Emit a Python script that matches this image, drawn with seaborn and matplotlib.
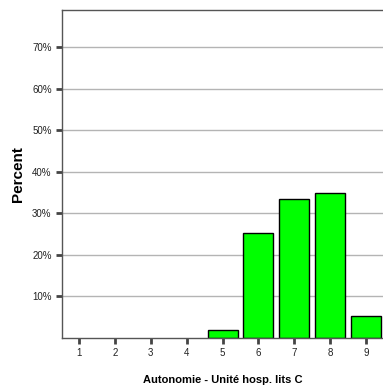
import matplotlib
matplotlib.use("Agg")
import matplotlib.pyplot as plt
import seaborn as sns
import pandas as pd
from matplotlib.ticker import FuncFormatter

# values
scores = [1, 2, 3, 4, 5, 6, 7, 8, 9]
percent = [0.0, 0.0, 0.0, 0.0, 2.0, 25.2, 33.5, 35.0, 5.2]
y_ticks = [10, 20, 30, 40, 50, 60, 70]

sns.set_style("white")
plt.rcParams['font.family'] = ['Liberation Sans', 'DejaVu Sans']

df = pd.DataFrame({'score': scores, 'percent': percent})
df = df[df['percent'] > 0]

fig = plt.figure(figsize=(3.83, 3.87), dpi=100)
ax = fig.add_axes([0.162, 0.1266, 0.838, 0.8475])

for t in y_ticks:
    ax.axhline(t, color='#b4b4b4', lw=1.0, zorder=0)

sns.barplot(data=df, x='score', y='percent', native_scale=True, width=0.835,
            color='#00ff00', saturation=1, edgecolor='black', linewidth=1.0,
            ax=ax, zorder=2)

ax.set_xlim(0.53, 9.47)
ax.set_ylim(0, 79)
ax.set_xticks(scores)
ax.set_yticks(y_ticks)
ax.yaxis.set_major_formatter(FuncFormatter(lambda v, p: f'{int(v)}%'))

for side in ['top', 'left', 'bottom']:
    ax.spines[side].set_visible(True)
    ax.spines[side].set_color('#555555')
    ax.spines[side].set_linewidth(1.0)
ax.spines['right'].set_visible(False)

ax.tick_params(axis='both', which='major', direction='out', length=4.5, width=2,
               color='#444444', labelsize=7, labelcolor='#222222', pad=3,
               left=True, bottom=True)

ax.set_xlabel('Autonomie - Unité hosp. lits C', fontsize=8, fontweight='bold',
              labelpad=12, color='black')
ax.set_ylabel('Percent', fontsize=11, fontweight='bold', labelpad=5, color='black')

fig.savefig('out.png', dpi=100)
